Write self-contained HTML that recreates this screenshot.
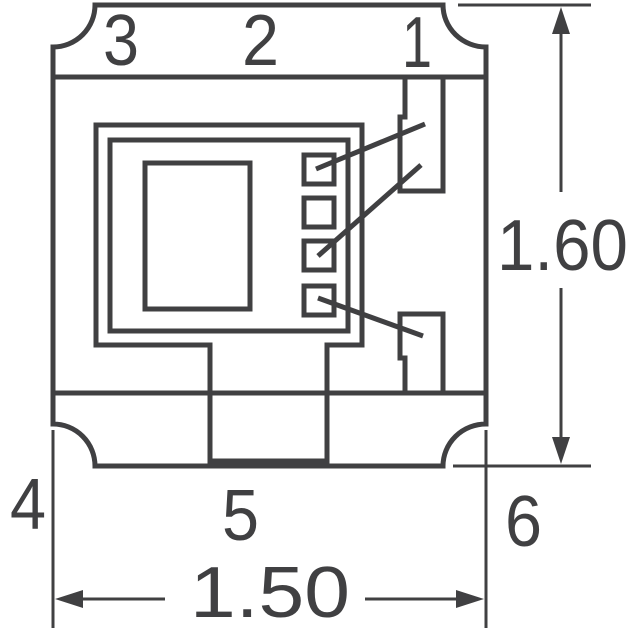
<!DOCTYPE html>
<html><head><meta charset="utf-8"><style>html,body{margin:0;padding:0;background:#fff}svg{display:block}</style></head>
<body>
<svg width="640" height="640" viewBox="0 0 640 640" xmlns="http://www.w3.org/2000/svg">
<g fill="none" stroke="#404042" stroke-width="5" stroke-linejoin="miter">
<path d="M95,5 L443,5 A43,42 0 0 0 486,47 L486,424 A43,42 0 0 0 443,466 L95,466 A42,42 0 0 0 53,424 L53,47 A42,42 0 0 0 95,5 Z"/>
<line x1="53" y1="77" x2="486" y2="77"/>
<line x1="53" y1="393" x2="486" y2="393"/>
<path d="M96,125 L362,125 L362,345 L327,345 L327,465 L210,465 L210,345 L96,345 Z"/>
<line x1="210" y1="463" x2="327" y2="463" stroke-width="9"/>
<rect x="110" y="140" width="238" height="191"/>
<rect x="145" y="163" width="105" height="146"/>
<rect x="304" y="155" width="30" height="29"/>
<rect x="304" y="198" width="30" height="29"/>
<rect x="304" y="241" width="30" height="29"/>
<rect x="304" y="286" width="30" height="29"/>
<path d="M405,77 L405,117 L400,117 L400,191 L443,191 L443,77"/>
<path d="M405,393 L405,358 L400,358 L400,314 L443,314 L443,393"/>
<line x1="316" y1="169" x2="425" y2="124"/>
<line x1="318" y1="256" x2="421" y2="165"/>
<line x1="318" y1="298" x2="423" y2="336"/>
</g>
<g fill="none" stroke="#404042" stroke-width="3">
<line x1="458" y1="5" x2="591" y2="5"/>
<line x1="453" y1="466" x2="591" y2="466"/>
<line x1="561" y1="20" x2="561" y2="192"/>
<line x1="561" y1="288" x2="561" y2="452"/>
<line x1="53" y1="430" x2="53" y2="628"/>
<line x1="486" y1="430" x2="486" y2="628"/>
<line x1="60" y1="599" x2="165" y2="599"/>
<line x1="365" y1="599" x2="478" y2="599"/>
</g>
<g fill="#404042">
<polygon points="561,7 552,34 570,34"/>
<polygon points="561,464 552,437 570,437"/>
<polygon points="55,599 83,590 83,608"/>
<polygon points="484,599 456,590 456,608"/>
</g>
<g fill="#404042" font-family="Liberation Sans, sans-serif" font-size="72">
<text x="103" y="65" textLength="36" lengthAdjust="spacingAndGlyphs">3</text>
<text x="242" y="65" textLength="37" lengthAdjust="spacingAndGlyphs">2</text>
<text x="402" y="67" textLength="30" lengthAdjust="spacingAndGlyphs">1</text>
<text x="497" y="270" textLength="131" lengthAdjust="spacingAndGlyphs">1.60</text>
<text x="190" y="617" textLength="160" lengthAdjust="spacingAndGlyphs">1.50</text>
<text x="10" y="529" textLength="36" lengthAdjust="spacingAndGlyphs">4</text>
<text x="222" y="540" textLength="37" lengthAdjust="spacingAndGlyphs">5</text>
<text x="505" y="546" textLength="37" lengthAdjust="spacingAndGlyphs">6</text>
</g>
</svg>
</body></html>
